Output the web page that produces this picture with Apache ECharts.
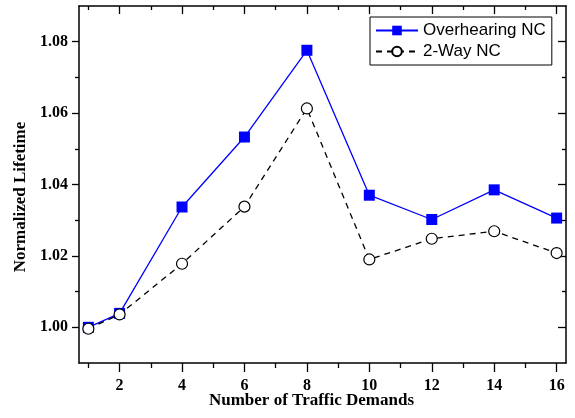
<!DOCTYPE html>
<html>
<head>
<meta charset="utf-8">
<script src="https://cdn.jsdelivr.net/npm/echarts@6/dist/echarts.min.js"></script>
<style>
  html, body { margin: 0; padding: 0; background: #fff; }
  #chart { width: 575px; height: 418px; }
</style>
</head>
<body>
<div id="chart"></div>
<script>
// Number of traffic demands (x) and normalized lifetime of each scheme
const trafficDemands = [1, 2, 4, 6, 8, 10, 12, 14, 16];
const overhearingNC = [1.0000, 1.0039, 1.0337, 1.0533, 1.0776, 1.0370, 1.0302, 1.0385, 1.0306];
const twoWayNC = [0.9996, 1.0036, 1.0178, 1.0338, 1.0613, 1.0190, 1.0248, 1.0269, 1.0208];

// Tick positions
const xMajorTicks = [2, 4, 6, 8, 10, 12, 14, 16];
const xMinorTicks = [1, 3, 5, 7, 9, 11, 13, 15];
const yMajorTicks = [1.00, 1.02, 1.04, 1.06, 1.08];
const yMinorTicks = [1.01, 1.03, 1.05, 1.07];

const X_MIN = 0.7, X_MAX = 16.3;
const Y_MIN = 0.99, Y_MAX = 1.09;

const serif = "'Liberation Serif', 'Times New Roman', serif";
const frame = { color: '#000', width: 1.5 };
const tickStyle = { color: '#000', width: 1.3 };

function xAxisDef(position, ticks, len, inside, withLabels, withLine) {
  return {
    type: 'value', position: position, min: X_MIN, max: X_MAX,
    axisLine: { show: withLine, onZero: false, lineStyle: frame },
    axisTick: { show: true, customValues: ticks, length: len, inside: inside, lineStyle: tickStyle },
    axisLabel: withLabels ? {
      show: true, customValues: ticks, margin: 15,
      fontFamily: serif, fontWeight: 'bold', fontSize: 16, color: '#000'
    } : { show: false },
    splitLine: { show: false }
  };
}

function yAxisDef(position, ticks, len, inside, withLabels, withLine) {
  return {
    type: 'value', position: position, min: Y_MIN, max: Y_MAX,
    axisLine: { show: withLine, onZero: false, lineStyle: frame },
    axisTick: { show: true, customValues: ticks, length: len, inside: inside, lineStyle: tickStyle },
    axisLabel: withLabels ? {
      show: true, customValues: ticks, margin: 11,
      formatter: v => v.toFixed(2),
      fontFamily: serif, fontWeight: 'bold', fontSize: 16, color: '#000'
    } : { show: false },
    splitLine: { show: false }
  };
}

const xBottom = xAxisDef('bottom', xMajorTicks, 9, false, true, true);
xBottom.name = 'Number of Traffic Demands';
xBottom.nameLocation = 'middle';
xBottom.nameGap = 29;
xBottom.nameMoveOverlap = false;
xBottom.nameTextStyle = {
  fontFamily: serif, fontWeight: 'bold', fontSize: 17, color: '#000',
  verticalAlign: 'top', padding: [0, 22, 0, 0]
};

const yLeft = yAxisDef('left', yMajorTicks, 7, false, true, true);
yLeft.name = 'Normalized Lifetime';
yLeft.nameLocation = 'middle';
yLeft.nameGap = 50;
yLeft.nameMoveOverlap = false;
yLeft.nameTextStyle = {
  fontFamily: serif, fontWeight: 'bold', fontSize: 17, color: '#000',
  padding: [0, 25, 0, 0]
};

const chart = echarts.init(document.getElementById('chart'), null, { renderer: 'canvas' });

chart.setOption({
  animation: false,
  backgroundColor: '#fff',
  grid: { left: 79, right: 9, top: 6, bottom: 55, containLabel: false, outerBoundsMode: 'none' },
  legend: {
    orient: 'vertical',
    left: 370, top: 17,
    itemWidth: 42, itemHeight: 12, itemGap: 4,
    padding: [5, 6, 5, 5],
    borderColor: '#000', borderWidth: 1, backgroundColor: '#fff',
    textStyle: { fontFamily: "'Liberation Sans', Arial, sans-serif", fontSize: 17, color: '#000' },
    data: ['Overhearing NC', '2-Way NC']
  },
  xAxis: [
    xBottom,
    xAxisDef('bottom', xMinorTicks, 5, false, false, false),
    xAxisDef('top', xMajorTicks, 8, true, false, true),
    xAxisDef('top', xMinorTicks, 4, true, false, false)
  ],
  yAxis: [
    yLeft,
    yAxisDef('left', yMinorTicks, 4, false, false, false),
    yAxisDef('right', yMajorTicks, 8, true, false, true),
    yAxisDef('right', yMinorTicks, 4, true, false, false)
  ],
  series: [
    {
      name: 'Overhearing NC', type: 'line', xAxisIndex: 0, yAxisIndex: 0,
      data: trafficDemands.map((x, i) => [x, overhearingNC[i]]),
      symbol: 'rect', symbolSize: 11,
      itemStyle: { color: '#0000ff' },
      lineStyle: { color: '#0000ff', width: 1.3 },
      z: 2
    },
    {
      name: '2-Way NC', type: 'line', xAxisIndex: 0, yAxisIndex: 0,
      data: trafficDemands.map((x, i) => [x, twoWayNC[i]]),
      symbol: 'circle', symbolSize: 11,
      itemStyle: { color: '#fff', borderColor: '#000', borderWidth: 1.2 },
      lineStyle: { color: '#000', width: 1.3, type: [6, 5] },
      z: 3
    }
  ]
});
</script>
</body>
</html>
